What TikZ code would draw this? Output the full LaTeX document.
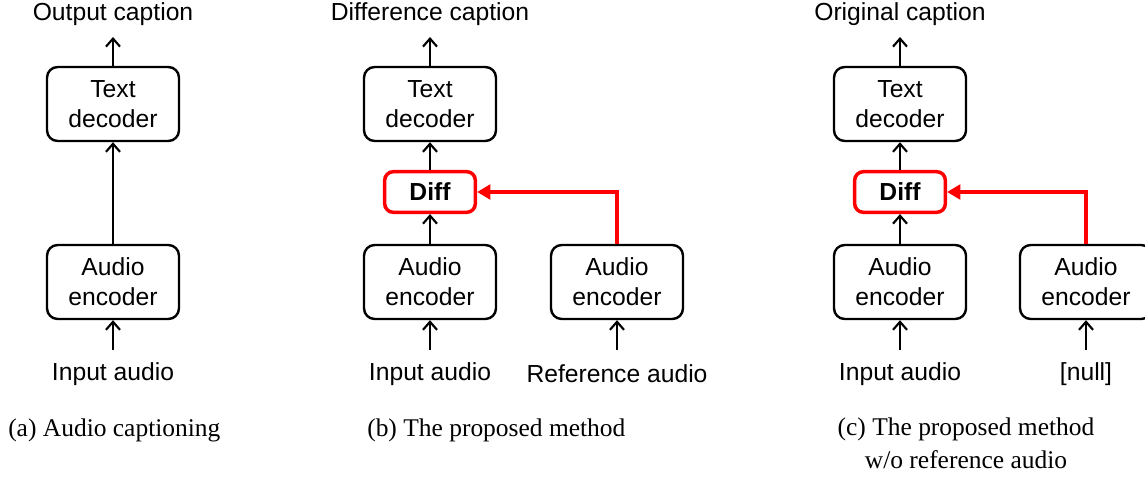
\documentclass[tikz,border=0pt]{standalone}
\usepackage{fontspec}
\setmainfont{Liberation Sans}
\newfontfamily\capfont{Liberation Serif}
\usetikzlibrary{arrows.meta}
\definecolor{diffred}{RGB}{255,0,0}
\begin{document}
\begin{tikzpicture}[x=0.75pt,y=-0.75pt,
  blk/.style={draw,line width=1.8pt,rounded corners=8pt,minimum width=99pt,minimum height=55.5pt,align=center,inner sep=0pt,font=\fontsize{18.5}{22.5}\selectfont},
  diffblk/.style={draw=diffred,line width=2.6pt,rounded corners=6.5pt,minimum width=68pt,minimum height=30.5pt,inner sep=0pt,font=\fontsize{18.5}{21}\selectfont\bfseries},
  lbl/.style={inner sep=0pt,font=\fontsize{18.5}{21}\selectfont},
  figcap/.style={inner sep=0pt,align=center,font=\capfont\fontsize{19.1}{24.5}\selectfont},
  arr/.style={line width=1.8pt,-{Straight Barb[length=6pt,width=10.5pt,line width=1.6pt]}},
  redarr/.style={draw=diffred,line width=2.6pt,-{Triangle[length=10pt,width=11pt]}}]
\useasboundingbox (0,0) rectangle (1145,478);
% (a)
\node[lbl] (ta) at (113,14) {Output caption};
\node[blk] (da) at (113,104) {Text\\decoder};
\node[blk] (ea) at (113,282) {Audio\\encoder};
\node[lbl] (ia) at (113,374) {Input audio};
\coordinate (ia0) at (113,350);
\coordinate (ta0) at (113,37);
\draw[arr] (ia0) -- (ea.south);
\draw[arr] (ea.north) -- (da.south);
\draw[arr] (da.north) -- (ta0);
\node[figcap,anchor=west] (ca) at (8,430) {(a) Audio captioning};
% (b)
\node[lbl] (tb) at (430,14) {Difference caption};
\node[blk] (db) at (430,104) {Text\\decoder};
\node[diffblk] (fb) at (430,192) {Diff};
\node[blk] (eb) at (430,282) {Audio\\encoder};
\node[blk] (rb) at (617,282) {Audio\\encoder};
\node[lbl] (ib) at (430,374) {Input audio};
\node[lbl] (rib) at (617,374) {Reference audio};
\coordinate (ib0) at (430,350);
\coordinate (rib0) at (617,350);
\coordinate (tb0) at (430,37);
\draw[arr] (ib0) -- (eb.south);
\draw[arr] (rib0) -- (rb.south);
\draw[arr] (eb.north) -- (fb.south);
\draw[arr] (fb.north) -- (db.south);
\draw[arr] (db.north) -- (tb0);
\draw[redarr] (rb.north) |- (fb.east);
\node[figcap,anchor=west] (cb) at (367,430) {(b) The proposed method};
% (c)
\node[lbl] (tc) at (900,14) {Original caption};
\node[blk] (dc) at (900,104) {Text\\decoder};
\node[diffblk] (fc) at (900,192) {Diff};
\node[blk] (ec) at (900,282) {Audio\\encoder};
\node[blk] (rc) at (1086,282) {Audio\\encoder};
\node[lbl] (ic) at (900,374) {Input audio};
\node[lbl] (ric) at (1086,374) {[null]};
\coordinate (ic0) at (900,350);
\coordinate (ric0) at (1086,350);
\coordinate (tc0) at (900,37);
\draw[arr] (ic0) -- (ec.south);
\draw[arr] (ric0) -- (rc.south);
\draw[arr] (ec.north) -- (fc.south);
\draw[arr] (fc.north) -- (dc.south);
\draw[arr] (dc.north) -- (tc0);
\draw[redarr] (rc.north) |- (fc.east);
\node[figcap,anchor=north] (cc) at (966,418) {(c) The proposed method\\w/o reference audio};
\end{tikzpicture}
\end{document}
